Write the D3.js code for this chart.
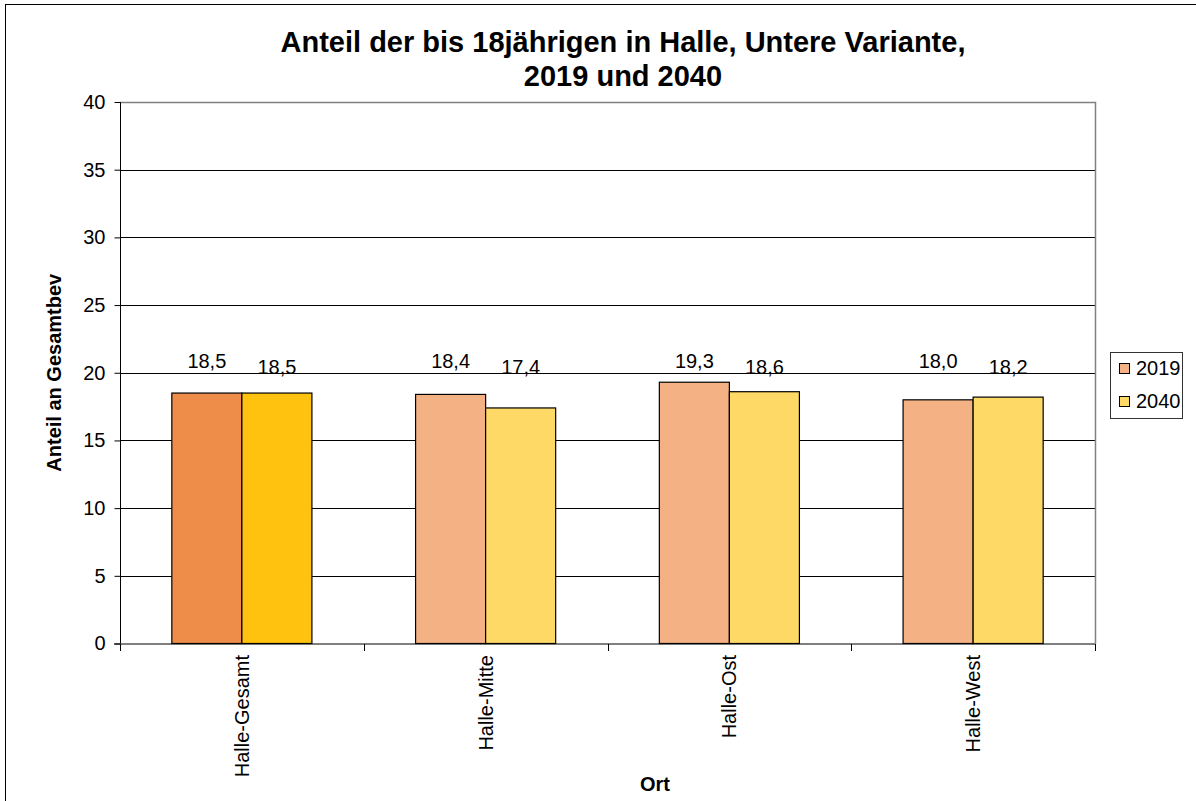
<!DOCTYPE html>
<html lang="de">
<head>
<meta charset="utf-8">
<title>Anteil der bis 18jährigen in Halle</title>
<script src="https://d3js.org/d3.v7.min.js"></script>
<style>
  body { margin: 0; background: #fff; }
  svg text { font-family: "Liberation Sans", Arial, sans-serif; fill: #000; }
</style>
</head>
<body>
<svg width="1196" height="801"></svg>
<script>
  // chart data
  var categories = ["Halle-Gesamt", "Halle-Mitte", "Halle-Ost", "Halle-West"];
  var seriesNames = ["2019", "2040"];
  var values2019 = [18.5, 18.4, 19.3, 18.0];
  var values2040 = [18.5, 17.4, 18.6, 18.2];
  var yTicks = [0, 5, 10, 15, 20, 25, 30, 35, 40];

  var svg = d3.select("svg");
  var margin = {left: 120, top: 102, right: 1095, bottom: 643.5};

  // outer frame
  svg.append("rect")
    .attr("x", 5.5).attr("y", 4.5)
    .attr("width", 1200).attr("height", 810)
    .attr("fill", "none").attr("stroke", "#000");

  var x = d3.scaleBand()
    .domain(categories)
    .range([margin.left, margin.right])
    .paddingInner(0)
    .paddingOuter(0);

  var xs = d3.scaleBand()
    .domain(seriesNames)
    .range([0, x.bandwidth()])
    .paddingInner(0)
    .paddingOuter(0.74);

  var y = d3.scaleLinear()
    .domain([0, 40])
    .range([margin.bottom, margin.top]);

  // gridlines
  svg.append("g")
    .selectAll("line")
    .data(yTicks.filter(function(d) { return d > 0 && d < 40; }))
    .enter().append("line")
      .attr("x1", margin.left).attr("x2", margin.right)
      .attr("y1", function(d) { return Math.round(y(d)) + 0.5; })
      .attr("y2", function(d) { return Math.round(y(d)) + 0.5; })
      .attr("stroke", "#000");

  // plot border (top / right)
  svg.append("path")
    .attr("d", "M" + margin.left + "," + (margin.top + 0.5) + "H" + (margin.right + 0.5) + "V" + margin.bottom)
    .attr("fill", "none")
    .attr("stroke", "#808080")
    .attr("stroke-width", 1.5);

  var colors = {
    "2019": "#F4B183",
    "2040": "#FFD966"
  };
  var highlight = {
    "2019": "#EE8C4A",
    "2040": "#FFC20E"
  };

  var rows = categories.map(function(c, i) {
    return {cat: c, vals: [
      {s: "2019", v: values2019[i]},
      {s: "2040", v: values2040[i]}
    ]};
  });

  var groups = svg.append("g")
    .selectAll("g")
    .data(rows)
    .enter().append("g")
      .attr("transform", function(d) { return "translate(" + x(d.cat) + ",0)"; });

  groups.selectAll("rect")
    .data(function(d, i) { return d.vals.map(function(e) { return {s: e.s, v: e.v, first: i === 0}; }); })
    .enter().append("rect")
      .attr("x", function(d) { return xs(d.s); })
      .attr("y", function(d) { return y(d.v); })
      .attr("width", xs.bandwidth())
      .attr("height", function(d) { return y(0) - y(d.v); })
      .attr("fill", function(d) { return d.first ? highlight[d.s] : colors[d.s]; })
      .attr("stroke", "#000")
      .attr("stroke-width", 1.2);

  // value labels
  groups.selectAll("text")
    .data(function(d) { return d.vals; })
    .enter().append("text")
      .attr("x", function(d) { return xs(d.s) + xs.bandwidth() / 2; })
      .attr("y", function(d) { return d.s === "2019" ? y(20) - 5 : y(20) + 1; })
      .attr("text-anchor", "middle")
      .attr("font-size", 20)
      .text(function(d) { return d3.format(".1f")(d.v).replace(".", ","); });

  // y axis
  var yAxis = svg.append("g")
    .attr("transform", "translate(" + (margin.left + 0.5) + ",0)")
    .call(d3.axisLeft(y).tickValues(yTicks).tickSize(6).tickPadding(9));
  yAxis.selectAll("text").attr("font-size", 20).attr("font-family", "Liberation Sans, Arial, sans-serif");
  yAxis.selectAll("line, path").attr("stroke", "#000");
  yAxis.select(".domain").attr("d", "M0," + margin.top + "V" + margin.bottom);

  // x axis
  var xAxis = svg.append("g")
    .attr("transform", "translate(0," + (margin.bottom + 0.5) + ")");
  xAxis.append("line")
    .attr("x1", margin.left - 6).attr("x2", margin.right + 0.5)
    .attr("stroke", "#000");
  xAxis.selectAll(".tick")
    .data(categories.concat([null]))
    .enter().append("line")
      .attr("x1", function(d) { return d ? Math.round(x(d)) + 0.5 : margin.right + 0.5; })
      .attr("x2", function(d) { return d ? Math.round(x(d)) + 0.5 : margin.right + 0.5; })
      .attr("y1", 0).attr("y2", 7)
      .attr("stroke", "#000");
  xAxis.selectAll("text")
    .data(categories)
    .enter().append("text")
      .attr("transform", function(d) {
        return "translate(" + (x(d) + x.bandwidth() / 2 + 7) + ",11) rotate(-90)";
      })
      .attr("text-anchor", "end")
      .attr("font-size", 20)
      .text(function(d) { return d; });

  // axis titles
  svg.append("text")
    .attr("x", 655).attr("y", 791)
    .attr("text-anchor", "middle")
    .attr("font-size", 20)
    .attr("font-weight", "bold")
    .text("Ort");

  svg.append("text")
    .attr("transform", "translate(61," + ((margin.top + margin.bottom) / 2) + ") rotate(-90)")
    .attr("text-anchor", "middle")
    .attr("font-size", 20)
    .attr("font-weight", "bold")
    .text("Anteil an Gesamtbev");

  // title
  var title = svg.append("text")
    .attr("x", 623)
    .attr("text-anchor", "middle")
    .attr("font-size", 29)
    .attr("font-weight", "bold");
  title.append("tspan").attr("x", 623).attr("y", 52).text("Anteil der bis 18jährigen in Halle, Untere Variante,");
  title.append("tspan").attr("x", 623).attr("y", 86).text("2019 und 2040");

  // legend
  var legend = svg.append("g").attr("transform", "translate(1110,352)");
  legend.append("rect")
    .attr("x", 0.5).attr("y", 0.5)
    .attr("width", 72).attr("height", 66)
    .attr("fill", "#fff").attr("stroke", "#333");
  var li = legend.selectAll("g.item")
    .data(seriesNames)
    .enter().append("g")
      .attr("transform", function(d, i) { return "translate(0," + (16 + i * 33) + ")"; });
  li.append("rect")
    .attr("x", 9.5).attr("y", -4.5)
    .attr("width", 10).attr("height", 10)
    .attr("fill", function(d) { return colors[d]; })
    .attr("stroke", "#000");
  li.append("text")
    .attr("x", 26).attr("y", 7)
    .attr("font-size", 20)
    .text(function(d) { return d; });
</script>
</body>
</html>
